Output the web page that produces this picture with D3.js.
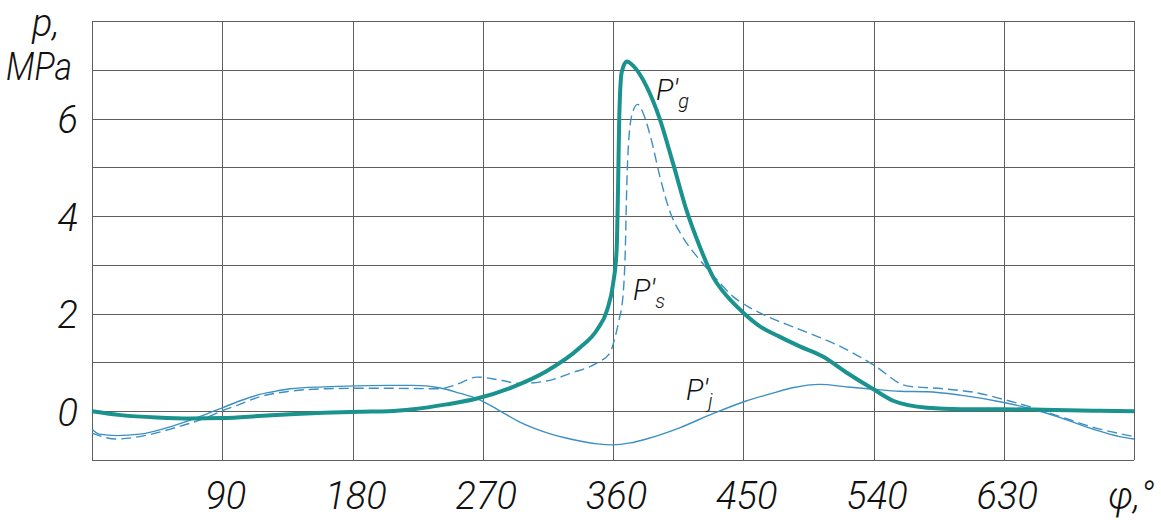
<!DOCTYPE html>
<html lang="en">
<head>
    <meta charset="UTF-8">
    <title>Pressure vs crank angle</title>
    <script src="https://d3js.org/d3.v7.min.js"></script>
    <style>
        body {
            margin: 0;
            background: #fff;
        }
        text {
            font-family: Roboto, "DejaVu Sans Condensed", sans-serif;
            font-style: italic;
            font-weight: 300;
            fill: #111;
        }
        .axis text {
            font-size: 38px;
        }
        .axis path, .axis line {
            display: none;
        }
        .grid line {
            stroke: #5e5e5e;
            stroke-width: 1;
            shape-rendering: crispEdges;
        }
    </style>
</head>
<body>
    <svg width="1161" height="520"></svg>
    <script>
        // crank angle, deg / pressure, MPa
        const pgAngle = [0, 20, 45, 68, 90, 115, 137, 160, 185, 205, 222, 245, 266, 291, 314, 337, 349, 356, 360, 362.5, 363.5, 364.3, 366, 369.5, 374, 383.5, 392, 401.5, 411, 420, 429, 439, 450, 461.5, 475, 489, 505, 521, 540, 554, 577, 600, 630, 657, 692, 720];
        const pgValue = [0, -0.08, -0.13, -0.15, -0.14, -0.1, -0.06, -0.03, -0.01, 0, 0.04, 0.14, 0.26, 0.5, 0.82, 1.3, 1.67, 2.08, 2.6, 3.3, 4.6, 6.0, 6.95, 7.17, 7.08, 6.64, 6.02, 5.08, 4.1, 3.37, 2.76, 2.35, 2.02, 1.74, 1.53, 1.33, 1.12, 0.8, 0.45, 0.21, 0.07, 0.04, 0.04, 0.03, 0.01, 0];

        const psAngle = [0, 17, 33, 56, 79, 90, 102, 114, 137, 160, 183, 206, 240, 252, 266, 280, 296, 314, 332, 349, 358, 361, 364, 367, 368.5, 369.5, 371, 373.5, 377, 381, 386, 392.5, 399, 408, 420, 432, 443, 453, 464, 480, 498, 517, 540, 563, 588, 611, 630, 646, 669, 692, 720];
        const psValue = [-0.45, -0.57, -0.52, -0.35, -0.13, 0.01, 0.14, 0.28, 0.41, 0.46, 0.47, 0.47, 0.46, 0.55, 0.7, 0.65, 0.57, 0.62, 0.79, 0.99, 1.2, 1.47, 1.85, 2.4, 3.3, 4.6, 5.6, 6.12, 6.29, 6.1, 5.62, 4.8, 4.12, 3.58, 3.1, 2.69, 2.35, 2.15, 1.98, 1.78, 1.57, 1.33, 0.95, 0.52, 0.46, 0.38, 0.24, 0.11, -0.11, -0.33, -0.52];

        const pjAngle = [0, 5, 17, 33, 56, 79, 90, 102, 114, 125, 137, 160, 183, 206, 222, 240, 254, 266, 280, 296, 314, 332, 349, 360, 372, 383, 406, 429, 452, 468, 484, 503, 521, 540, 558, 577, 600, 630, 650, 669, 692, 710, 720];
        const pjValue = [-0.37, -0.47, -0.5, -0.47, -0.3, -0.06, 0.07, 0.21, 0.33, 0.4, 0.46, 0.5, 0.52, 0.53, 0.53, 0.48, 0.37, 0.26, 0.04, -0.23, -0.44, -0.58, -0.67, -0.69, -0.65, -0.57, -0.34, -0.05, 0.21, 0.35, 0.48, 0.55, 0.5, 0.45, 0.41, 0.4, 0.33, 0.18, 0.04, -0.13, -0.37, -0.52, -0.57];

        const xTicks = [90, 180, 270, 360, 450, 540, 630];
        const yTicks = [0, 2, 4, 6];
        const xGrid = [0, 90, 180, 270, 360, 450, 540, 630, 720];
        const yGrid = [-1, 0, 1, 2, 3, 4, 5, 6, 7, 8];

        const margin = { top: 21, right: 27, bottom: 60, left: 92 };
        const width = 1161;
        const height = 520;

        const svg = d3.select("svg");

        const x = d3.scaleLinear()
            .domain([0, 720])
            .range([margin.left, width - margin.right]);

        const y = d3.scaleLinear()
            .domain([-1, 8])
            .range([height - margin.bottom, margin.top]);

        // grid
        const grid = svg.append("g").attr("class", "grid");
        grid.selectAll(".v")
            .data(xGrid)
            .join("line")
            .attr("x1", d => Math.round(x(d)) + 0.5)
            .attr("x2", d => Math.round(x(d)) + 0.5)
            .attr("y1", y(8))
            .attr("y2", y(-1));
        grid.selectAll(".h")
            .data(yGrid)
            .join("line")
            .attr("class", "h")
            .attr("x1", x(0))
            .attr("x2", x(720))
            .attr("y1", d => Math.round(y(d)) + 0.5)
            .attr("y2", d => Math.round(y(d)) + 0.5);

        // axes (labels only)
        svg.append("g")
            .attr("class", "axis")
            .attr("transform", `translate(3,${y(-1) + 49})`)
            .call(d3.axisBottom(x).tickValues(xTicks).tickSize(0).tickPadding(0))
            .selectAll("text")
            .attr("dy", 0);

        svg.append("g")
            .attr("class", "axis")
            .attr("transform", `translate(78,0)`)
            .call(d3.axisLeft(y).tickValues(yTicks).tickSize(0).tickPadding(0))
            .selectAll("text")
            .attr("dy", "14px");

        svg.append("text")
            .attr("x", 32).attr("y", 36)
            .style("font-size", "38px")
            .text("p,");
        svg.append("text")
            .attr("x", 6).attr("y", 80)
            .attr("textLength", 66)
            .attr("lengthAdjust", "spacingAndGlyphs")
            .style("font-size", "38px")
            .text("MPa");
        svg.append("text")
            .attr("x", 1108).attr("y", 509)
            .style("font-size", "38px")
            .text("φ,°");

        // curves
        const line = d3.line()
            .x(d => x(d[0]))
            .y(d => y(d[1]))
            .curve(d3.curveMonotoneX);

        const pj = d3.zip(pjAngle, pjValue);
        const ps = d3.zip(psAngle, psValue);
        const pg = d3.zip(pgAngle, pgValue);

        svg.append("path")
            .datum(pj)
            .attr("d", line)
            .attr("fill", "none")
            .attr("stroke", "#3c8fc3")
            .attr("stroke-width", 1.4);

        svg.append("path")
            .datum(ps)
            .attr("d", line)
            .attr("fill", "none")
            .attr("stroke", "#3c8fc3")
            .attr("stroke-width", 1.4)
            .attr("stroke-dasharray", "10,5");

        svg.append("path")
            .datum(pg)
            .attr("d", line)
            .attr("fill", "none")
            .attr("stroke", "#1a928e")
            .attr("stroke-width", 4)
            .attr("stroke-linejoin", "round");

        // curve labels
        function curveLabel(px, py, sub) {
            const t = svg.append("text")
                .attr("x", px).attr("y", py)
                .style("font-size", "29px");
            t.append("tspan").text("P′");
            t.append("tspan")
                .attr("dy", 8)
                .style("font-size", "20px")
                .text(sub);
        }
        curveLabel(656, 100, "g");
        curveLabel(633, 300, "s");
        curveLabel(686, 400, "j");
    </script>
</body>
</html>
